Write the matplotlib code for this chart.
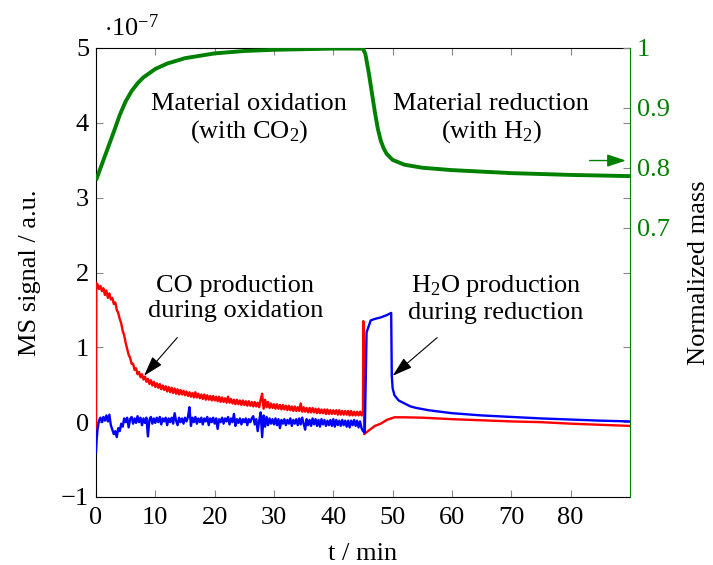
import numpy as np
import matplotlib
matplotlib.use("Agg")
import matplotlib.pyplot as plt

plt.rcParams['font.family'] = ['Liberation Serif', 'DejaVu Serif']
plt.rcParams['mathtext.fontset'] = 'custom'
plt.rcParams['mathtext.rm'] = 'Liberation Serif'
plt.rcParams['mathtext.it'] = 'Liberation Serif:italic'
plt.rcParams['font.size'] = 19

# ---------------- data (MS signal in units of 1e-7) ----------------
# CO (red): start, noisy oxidation segment sampled every 0.25 min (0.25..45), reduction
co_t_start = [0.0, 0.05]
co_v_start = [-0.10, 1.86]
co_v_ox = [1.84, 1.78, 1.82, 1.75, 1.79, 1.70, 1.76, 1.66, 1.72, 1.64,
           1.66, 1.58, 1.60, 1.50, 1.46, 1.38, 1.32, 1.22, 1.16, 1.06,
           0.98, 0.90, 0.86, 0.78, 0.78, 0.70, 0.72, 0.64, 0.67, 0.60,
           0.64, 0.57, 0.61, 0.54, 0.58, 0.51, 0.56, 0.49, 0.54, 0.47,
           0.52, 0.46, 0.51, 0.44, 0.49, 0.43, 0.48, 0.41, 0.47, 0.40,
           0.46, 0.39, 0.45, 0.38, 0.44, 0.37, 0.43, 0.37, 0.42, 0.36,
           0.41, 0.35, 0.40, 0.34, 0.39, 0.33, 0.40, 0.33, 0.38, 0.32,
           0.37, 0.31, 0.37, 0.30, 0.36, 0.30, 0.35, 0.29, 0.35, 0.29,
           0.34, 0.28, 0.34, 0.27, 0.33, 0.27, 0.32, 0.26, 0.34, 0.26,
           0.31, 0.25, 0.30, 0.24, 0.30, 0.24, 0.29, 0.23, 0.29, 0.23,
           0.28, 0.22, 0.28, 0.22, 0.27, 0.21, 0.27, 0.21, 0.26, 0.20,
           0.30, 0.38, 0.18, 0.30, 0.20, 0.27, 0.19, 0.25, 0.19, 0.24,
           0.18, 0.24, 0.18, 0.23, 0.17, 0.23, 0.17, 0.22, 0.16, 0.22,
           0.16, 0.21, 0.15, 0.21, 0.15, 0.20, 0.15, 0.25, 0.14, 0.20,
           0.14, 0.19, 0.13, 0.19, 0.13, 0.19, 0.13, 0.18, 0.12, 0.18,
           0.12, 0.17, 0.12, 0.17, 0.11, 0.17, 0.11, 0.16, 0.11, 0.16,
           0.11, 0.16, 0.10, 0.16, 0.10, 0.15, 0.10, 0.15, 0.10, 0.15,
           0.09, 0.15, 0.09, 0.14, 0.09, 0.14, 0.09, 0.14, 0.09, 0.15]
co_t_red = [45.05, 45.2, 46.0, 47.0, 48.0, 49.0, 50.3, 52.0, 55.0, 60.0,
            65.0, 70.0, 75.0, 80.0, 85.0, 90.0]
co_v_red = [1.35, -0.16, -0.11, -0.05, -0.02, 0.03, 0.065, 0.065, 0.06, 0.04,
            0.025, 0.01, 0.0, -0.02, -0.035, -0.05]

# H2O (blue)
h2o_t_start = [0.0, 0.1]
h2o_v_start = [-0.40, -0.25]
h2o_v_ox = [-0.10, 0.02, 0.06, 0.00, 0.07, 0.02, 0.09, 0.01, 0.10, -0.04,
            -0.10, -0.16, -0.12, -0.20, -0.08, -0.12, -0.02, -0.06, 0.05, 0.00,
            0.06, -0.07, 0.04, 0.07, -0.02, 0.05, -0.01, 0.08, 0.00, 0.06,
            -0.04, 0.05, -0.01, 0.06, -0.19, 0.03, 0.07, -0.02, 0.05, -0.01,
            0.06, 0.00, 0.07, -0.03, 0.05, 0.01, 0.06, -0.04, 0.05, 0.00,
            0.06, -0.02, 0.12, 0.02, -0.04, 0.06, 0.00, 0.05, -0.02, 0.06,
            0.01, 0.07, 0.20, -0.05, 0.06, 0.00, 0.07, -0.02, 0.05, 0.00,
            0.06, -0.03, 0.05, 0.01, 0.07, -0.04, 0.05, 0.00, 0.06, -0.02,
            0.05, -0.09, 0.04, 0.00, 0.06, -0.02, 0.05, 0.01, 0.07, -0.03,
            0.05, 0.00, 0.11, -0.05, 0.04, -0.01, 0.05, -0.03, 0.04, 0.00,
            0.05, -0.04, 0.04, 0.00, 0.05, 0.08, -0.03, 0.04, -0.12, 0.02,
            0.13, -0.20, 0.09, -0.06, 0.07, -0.04, 0.05, -0.02, 0.04, -0.03,
            0.05, -0.04, 0.04, -0.08, 0.03, -0.02, 0.04, -0.04, 0.03, -0.02,
            0.05, -0.05, 0.03, -0.02, 0.04, -0.04, 0.05, -0.03, 0.06, -0.02,
            -0.10, 0.04, -0.04, 0.03, -0.05, 0.05, -0.03, 0.04, -0.05, 0.03,
            -0.06, 0.04, -0.03, 0.03, -0.05, 0.02, -0.04, 0.03, -0.05, 0.04,
            -0.06, 0.03, -0.04, 0.02, -0.05, 0.03, -0.04, 0.02, -0.06, 0.02,
            -0.07, 0.02, -0.04, 0.03, -0.05, 0.02, -0.07, 0.01, -0.08, -0.12]
h2o_t_red = [45.3, 45.6, 46.3, 47.0, 48.0, 49.0, 49.75, 49.85, 50.0, 50.3,
             51.0, 52.0, 53.0, 54.0, 56.0, 58.0, 60.0, 65.0, 70.0, 75.0,
             80.0, 85.0, 90.0]
h2o_v_red = [-0.14, 1.20, 1.36, 1.38, 1.40, 1.43, 1.46, 0.62, 0.45, 0.36,
             0.29, 0.25, 0.21, 0.19, 0.16, 0.14, 0.12, 0.09, 0.07, 0.05,
             0.035, 0.02, 0.01]

# Normalized mass (green, right axis)
mass_t = [0, 1, 2, 3, 4, 5, 6, 7, 8, 10, 12, 15, 20, 25, 30, 35, 40, 45,
          45.4, 46, 46.5, 47, 47.5, 48, 48.5, 49, 50, 52, 55, 60, 70, 80, 90]
mass_v = [0.779, 0.806, 0.833, 0.860, 0.888, 0.911, 0.928, 0.941, 0.951,
          0.965, 0.974, 0.983, 0.991, 0.995, 0.997, 0.998, 0.999, 0.999,
          0.990, 0.957, 0.925, 0.893, 0.865, 0.845, 0.832, 0.823, 0.813,
          0.805, 0.800, 0.796, 0.791, 0.788, 0.786]

x_ticks = [0, 10, 20, 30, 40, 50, 60, 70, 80]
y_ticks = [-1, 0, 1, 2, 3, 4, 5]
y2_ticks = [0.7, 0.8, 0.9, 1.0]
y2_labels = ['0.7', '0.8', '0.9', '1']

# ---------------- build series ----------------
ox_t = np.arange(0.25, 45.001, 0.25)
co_t = np.concatenate([co_t_start, ox_t, co_t_red])
co_v = np.concatenate([co_v_start, co_v_ox, co_v_red])
h2o_t = np.concatenate([h2o_t_start, ox_t, h2o_t_red])
h2o_v = np.concatenate([h2o_v_start, h2o_v_ox, h2o_v_red])

GREEN = '#008000'
GRAY = '#888888'

fig = plt.figure(figsize=(7.13, 5.65), dpi=100)
ax = fig.add_axes([96/713, 1-497/565, (630-96)/713, (497-48)/565])
ax2 = ax.twinx()

ax.plot(co_t, co_v, color='red', lw=1.7, zorder=3)
ax.plot(h2o_t, h2o_v, color='blue', lw=1.7, zorder=3)
ax2.plot(mass_t, mass_v, color=GREEN, lw=2.8, solid_capstyle='butt')

ax.set_xlim(0, 90)
ax.set_ylim(-1, 5)
ax2.set_ylim(0.25, 1.0)

ax.set_xticks(x_ticks)
ax.set_yticks(y_ticks)
ax.set_yticklabels(['\u22121', '0', '1', '2', '3', '4', '5'])
ax2.set_yticks(y2_ticks)
ax2.set_yticklabels(y2_labels)

ax.tick_params(direction='in', color=GRAY, length=5, width=0.8,
               top=True, right=True, labelsize=19)
ax.tick_params(axis='x', pad=7)
ax.tick_params(axis='y', pad=5)
ax2.tick_params(direction='in', color=GRAY, length=5, width=0.8,
                labelcolor=GREEN, labelsize=19, pad=5)
for s in ['left', 'bottom', 'top']:
    ax.spines[s].set_color('black')
    ax.spines[s].set_linewidth(0.8)
ax2.spines['right'].set_color(GREEN)
ax2.spines['right'].set_linewidth(0.8)
ax.spines['right'].set_visible(False)
for s in ['left', 'bottom', 'top']:
    ax2.spines[s].set_visible(False)

ax.set_xlabel('t / min', fontsize=19, labelpad=10)
ax.set_ylabel('MS signal / a.u.', fontsize=19, labelpad=14)
ax2.set_ylabel('Normalized mass', fontsize=19, labelpad=13)
ax.text(0.015, 1.015, r'$\cdot 10^{-7}$', transform=ax.transAxes,
        ha='left', va='bottom', fontsize=19)

ax.text(25.8, 4.05, 'Material oxidation\n(with CO$_2$)', ha='center',
        va='center', fontsize=19, linespacing=1.2, zorder=5)
ax.text(66.6, 4.05, 'Material reduction\n(with H$_2$)', ha='center',
        va='center', fontsize=19, linespacing=1.2, zorder=5)
ax.text(23.5, 1.65, 'CO production\nduring oxidation', ha='center',
        va='center', fontsize=19, linespacing=1.2, zorder=5)
ax.text(67.4, 1.65, 'H$_2$O production\nduring reduction', ha='center',
        va='center', fontsize=19, linespacing=1.2, zorder=5)

arrow_kw = dict(arrowstyle='-|>,head_length=0.65,head_width=0.2',
                color='black', lw=0.8, shrinkA=0, shrinkB=0)
ax.annotate('', xy=(8.1, 0.62), xytext=(13.7, 1.13), arrowprops=arrow_kw,
            zorder=6)
ax.annotate('', xy=(50.0, 0.62), xytext=(57.5, 1.13), arrowprops=arrow_kw,
            zorder=6)
ax2.annotate('', xy=(89.3, 0.812), xytext=(83.2, 0.812),
             arrowprops=dict(arrowstyle='-|>,head_length=0.6,head_width=0.2',
                             color=GREEN, lw=1.0, shrinkA=0, shrinkB=0))

fig.savefig('out.png', dpi=100)
